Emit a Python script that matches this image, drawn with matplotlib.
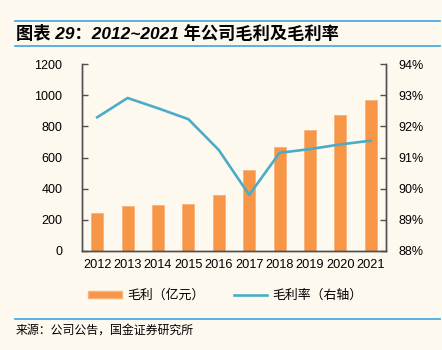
import matplotlib

matplotlib.use("Agg")

import matplotlib.pyplot as plt
from matplotlib.lines import Line2D
from matplotlib.patches import Patch
from matplotlib.ticker import FuncFormatter

plt.rcParams["font.family"] = ["Liberation Sans", "Noto Sans CJK SC", "DejaVu Sans"]

years = ["2012", "2013", "2014", "2015", "2016", "2017", "2018", "2019", "2020", "2021"]
gross_profit = [242, 289, 295, 304, 359, 520, 667, 776, 871, 969]
gross_margin = [92.29, 92.91, 92.58, 92.23, 91.24, 89.80, 91.15, 91.27, 91.42, 91.54]

bg = "#FDF9EF"
bar_color = "#F79646"
line_color = "#4BACC6"
rule_color = "#4BACE0"
spine_color = "#505050"

fig = plt.figure(figsize=(4.42, 3.5), dpi=100, facecolor=bg)
ax = fig.add_axes([0.1855, 0.2829, 0.6878, 0.5342])
ax.set_facecolor(bg)
ax2 = ax.twinx()

x = range(len(years))
ax.bar(x, gross_profit, width=0.4, color=bar_color, edgecolor="#F9B27A", linewidth=0.6, zorder=2)
ax2.plot(x, gross_margin, color=line_color, linewidth=1.9, zorder=3)

ax.set_xlim(-0.5, len(years) - 0.5)
ax.set_ylim(0, 1200)
ax.set_yticks(range(0, 1201, 200))
ax2.set_ylim(88, 94)
ax2.set_yticks(range(88, 95))
ax2.yaxis.set_major_formatter(FuncFormatter(lambda v, p: f"{v:.0f}%"))

ax.set_xticks(list(x))
ax.set_xticklabels(years)

for a in (ax, ax2):
    a.spines["top"].set_visible(False)
    for s in ("left", "right", "bottom"):
        a.spines[s].set_color(spine_color)
        a.spines[s].set_linewidth(1.0)

ax.tick_params(axis="y", direction="in", length=4, width=1, color=spine_color, labelsize=9, pad=14)
ax.tick_params(axis="x", length=0, labelsize=9.2, pad=6)
ax2.tick_params(axis="y", direction="in", length=4, width=1, color=spine_color, labelsize=9, pad=9)

# title and rules
fig.add_artist(Line2D([15 / 442, 440 / 442], [1 - 21 / 350] * 2, color=rule_color, linewidth=1.3))
fig.add_artist(Line2D([15 / 442, 440 / 442], [1 - 46 / 350] * 2, color=rule_color, linewidth=1.3))
fig.text(16 / 442, 1 - 33 / 350, "图表 29：2012~2021 年公司毛利及毛利率", fontsize=12.4,
         fontweight="bold", style="italic", va="center", ha="left")

handles = [Patch(facecolor=bar_color, edgecolor="#F9B27A"),
           Line2D([0], [0], color=line_color, linewidth=1.9)]
fig.legend(handles, ["毛利（亿元）", "毛利率（右轴）"], loc="center", bbox_to_anchor=(0.51, 1 - 296 / 350),
           ncol=2, frameon=False, fontsize=9.3, handlelength=2.6, handleheight=0.5,
           columnspacing=2.3, handletextpad=0.4)

fig.add_artist(Line2D([15 / 442, 440 / 442], [1 - 318.5 / 350] * 2, color=rule_color, linewidth=1.3))
fig.text(16 / 442, 1 - 330 / 350, "来源：公司公告，国金证券研究所", fontsize=8.6, va="center", ha="left",
         family=["Noto Sans CJK SC", "DejaVu Sans"])

fig.savefig("out.png", dpi=100, facecolor=bg)
